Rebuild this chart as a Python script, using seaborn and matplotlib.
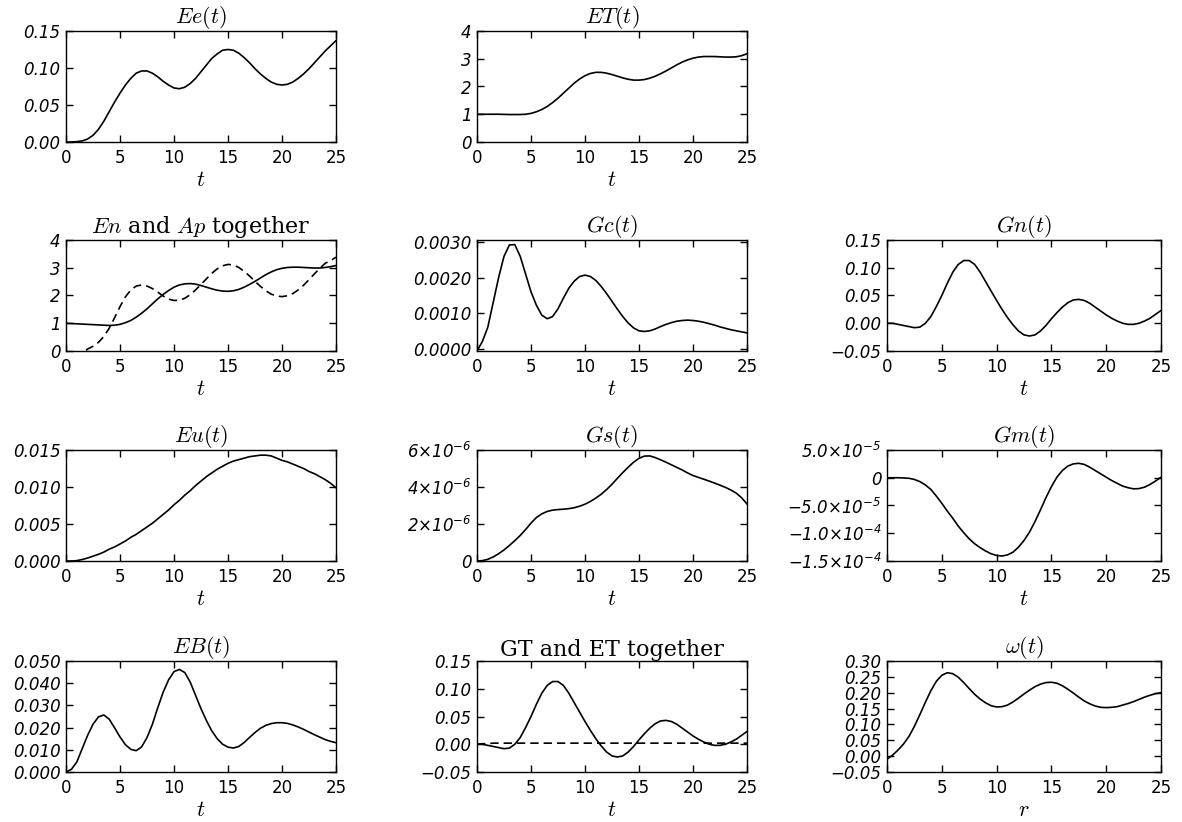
import numpy as np
import matplotlib
matplotlib.use("Agg")
import matplotlib.pyplot as plt
import seaborn as sns

# time grid (step 0.5)
t = np.arange(0, 25.5, 0.5)

Ee = [0.0, 0.0, 0.0005, 0.0015, 0.004, 0.009, 0.017, 0.028, 0.041, 0.054,
      0.066, 0.077, 0.086, 0.093, 0.096, 0.096, 0.093, 0.088, 0.082, 0.077,
      0.073, 0.072, 0.074, 0.079, 0.086, 0.095, 0.104, 0.113, 0.119, 0.124,
      0.125, 0.124, 0.120, 0.114, 0.107, 0.099, 0.092, 0.086, 0.081, 0.078,
      0.077, 0.078, 0.081, 0.086, 0.092, 0.099, 0.107, 0.115, 0.123, 0.130,
      0.137]

ET = [1.0, 1.0, 1.0, 1.0, 1.0, 0.995, 0.99, 0.99, 0.99, 1.0,
      1.03, 1.09, 1.17, 1.28, 1.42, 1.58, 1.76, 1.94, 2.12, 2.27,
      2.39, 2.47, 2.51, 2.51, 2.48, 2.43, 2.37, 2.31, 2.26, 2.23,
      2.23, 2.25, 2.30, 2.37, 2.46, 2.56, 2.67, 2.78, 2.88, 2.96,
      3.02, 3.06, 3.08, 3.08, 3.08, 3.07, 3.06, 3.06, 3.07, 3.11,
      3.18]

En = [1.0, 0.99, 0.98, 0.97, 0.96, 0.95, 0.94, 0.93, 0.92, 0.93,
      0.96, 1.02, 1.10, 1.22, 1.36, 1.52, 1.70, 1.88, 2.04, 2.18,
      2.30, 2.38, 2.42, 2.43, 2.41, 2.36, 2.30, 2.24, 2.19, 2.16,
      2.15, 2.17, 2.22, 2.30, 2.40, 2.51, 2.63, 2.75, 2.85, 2.93,
      2.98, 3.01, 3.02, 3.02, 3.01, 3.00, 2.99, 2.99, 3.01, 3.04,
      3.08]

Ap = [-0.6, -0.45, -0.3, -0.08, 0.07, 0.17, 0.31, 0.52, 0.82, 1.20,
      1.60, 1.95, 2.20, 2.34, 2.38, 2.34, 2.25, 2.12, 1.98, 1.87,
      1.82, 1.83, 1.90, 2.03, 2.20, 2.40, 2.60, 2.80, 2.96, 3.07,
      3.12, 3.10, 3.01, 2.87, 2.70, 2.51, 2.33, 2.17, 2.05, 1.98,
      1.96, 1.99, 2.07, 2.20, 2.37, 2.57, 2.78, 2.98, 3.16, 3.26,
      3.38]

Gc = [-0.00007, 0.0002, 0.0006, 0.0013, 0.0020, 0.0026, 0.00292, 0.00293, 0.0026, 0.0021,
      0.0016, 0.00122, 0.00094, 0.00084, 0.0009, 0.00112, 0.00142, 0.0017, 0.0019, 0.00203,
      0.00207, 0.00203, 0.00192, 0.00175, 0.00155, 0.00133, 0.00111, 0.0009, 0.00072, 0.00058,
      0.0005, 0.00048, 0.0005, 0.00055, 0.00062, 0.00068, 0.00073, 0.00077, 0.00079, 0.0008,
      0.00079, 0.00077, 0.00074, 0.0007, 0.00066, 0.00061, 0.00057, 0.00053, 0.0005, 0.00047,
      0.00044]

Gn = [0.0, 0.0, -0.002, -0.004, -0.006, -0.008, -0.007, 0.0, 0.012, 0.030,
      0.050, 0.072, 0.092, 0.106, 0.113, 0.113, 0.106, 0.092, 0.075, 0.058,
      0.041, 0.025, 0.010, -0.003, -0.014, -0.021, -0.023, -0.021, -0.014, -0.004,
      0.008, 0.019, 0.029, 0.037, 0.042, 0.043, 0.041, 0.036, 0.029, 0.022,
      0.015, 0.009, 0.004, 0.000, -0.002, -0.002, 0.000, 0.004, 0.009, 0.016,
      0.023]

Eu = [0.0, 0.0, 0.00005, 0.0002, 0.0004, 0.00065, 0.0009, 0.0012, 0.0016, 0.0019,
      0.0023, 0.0027, 0.0032, 0.0036, 0.0041, 0.0046, 0.0051, 0.0057, 0.0063, 0.0069,
      0.0076, 0.0082, 0.0089, 0.0095, 0.0102, 0.0108, 0.0114, 0.0119, 0.0124, 0.0128,
      0.0132, 0.0135, 0.0137, 0.0139, 0.0141, 0.0142, 0.0143, 0.0143, 0.0142, 0.0139,
      0.0136, 0.0134, 0.0131, 0.0128, 0.0125, 0.0121, 0.0118, 0.0114, 0.0110, 0.0105,
      0.0099]

# Gs in units of 1e-6
Gs = [0.0, 0.02, 0.09, 0.22, 0.39, 0.60, 0.84, 1.10, 1.38, 1.70,
      2.05, 2.35, 2.55, 2.68, 2.75, 2.78, 2.80, 2.83, 2.88, 2.96,
      3.07, 3.22, 3.40, 3.61, 3.86, 4.15, 4.47, 4.78, 5.07, 5.34,
      5.55, 5.67, 5.68, 5.59, 5.47, 5.34, 5.20, 5.06, 4.92, 4.76,
      4.62, 4.52, 4.42, 4.32, 4.21, 4.10, 3.98, 3.84, 3.67, 3.42,
      3.08]

# Gm in units of 1e-5
Gm = [0.0, 0.0, 0.0, -0.03, -0.1, -0.3, -0.7, -1.3, -2.1, -3.3,
      -4.6, -6.0, -7.3, -8.7, -9.9, -11.0, -11.9, -12.6, -13.2, -13.7,
      -14.0, -14.1, -13.9, -13.4, -12.5, -11.3, -9.8, -7.9, -5.8, -3.6,
      -1.6, 0.1, 1.3, 2.1, 2.5, 2.6, 2.4, 1.9, 1.3, 0.7,
      0.1, -0.5, -1.0, -1.5, -1.8, -2.0, -1.95, -1.7, -1.2, -0.6,
      0.1]

EB = [0.0, 0.0012, 0.0045, 0.0105, 0.0165, 0.0215, 0.0248, 0.0257, 0.0238, 0.0199,
      0.0158, 0.0123, 0.0102, 0.0096, 0.0113, 0.0155, 0.0215, 0.029, 0.036, 0.0415,
      0.0452, 0.0462, 0.0448, 0.0405, 0.0345, 0.0285, 0.0232, 0.0185, 0.015, 0.0125,
      0.0112, 0.0108, 0.0115, 0.0133, 0.0156, 0.0178, 0.0197, 0.021, 0.0218, 0.0222,
      0.0222, 0.0219, 0.0212, 0.0203, 0.0192, 0.018, 0.0168, 0.0157, 0.0146, 0.0138,
      0.0132]

GT = Gn
ET_small = [0.0, 0.001, 0.001, 0.002, 0.002, 0.002, 0.002, 0.002, 0.002, 0.002,
            0.002, 0.002, 0.002, 0.002, 0.002, 0.002, 0.002, 0.002, 0.002, 0.002,
            0.002, 0.002, 0.002, 0.002, 0.002, 0.002, 0.002, 0.002, 0.002, 0.002,
            0.002, 0.002, 0.002, 0.002, 0.002, 0.002, 0.002, 0.002, 0.002, 0.002,
            0.002, 0.002, 0.002, 0.002, 0.002, 0.002, 0.002, 0.002, 0.002, 0.002,
            0.002]

omega = [-0.01, 0.003, 0.019, 0.038, 0.062, 0.094, 0.131, 0.170, 0.206, 0.236,
         0.255, 0.263, 0.260, 0.249, 0.232, 0.213, 0.195, 0.180, 0.168, 0.159,
         0.155, 0.156, 0.161, 0.171, 0.183, 0.196, 0.208, 0.219, 0.227, 0.232,
         0.233, 0.230, 0.222, 0.211, 0.199, 0.186, 0.174, 0.165, 0.158, 0.154,
         0.153, 0.154, 0.156, 0.161, 0.166, 0.172, 0.179, 0.186, 0.192, 0.197,
         0.200]

xticks = [0, 5, 10, 15, 20, 25]
xticklabels = ["0", "5", "10", "15", "20", "25"]

M = "\u2212"

sns.set_style("ticks")
plt.rcParams.update({
    "font.family": ["DejaVu Sans"],
    "mathtext.fontset": "custom",
    "mathtext.rm": "DejaVu Sans:italic",
    "mathtext.it": "DejaVu Sans:italic",
    "text.color": "black",
    "axes.labelcolor": "black",
    "axes.titlecolor": "black",
    "axes.linewidth": 1.0,
    "axes.edgecolor": "black",
    "xtick.direction": "in",
    "ytick.direction": "in",
    "xtick.top": True,
    "ytick.right": True,
    "xtick.major.size": 5,
    "ytick.major.size": 5,
    "xtick.major.width": 1.0,
    "ytick.major.width": 1.0,
    "xtick.color": "black",
    "ytick.color": "black",
    "xtick.labelcolor": "black",
    "ytick.labelcolor": "black",
})

W, H = 1182, 822
col_left = [66, 477, 887]
col_w = [270, 270, 274]
row_top = [31, 240, 450, 661]
ph = 111

fig = plt.figure(figsize=(11.82, 8.22), dpi=100)


def panel(row, col, lines, title, yticks, ylabels, ylim, xlab="$t$"):
    ax = fig.add_axes([col_left[col] / W, 1 - (row_top[row] + ph) / H,
                       col_w[col] / W, ph / H])
    for y, ls in lines:
        sns.lineplot(x=t, y=y, ax=ax, color="black", linewidth=1.2,
                     linestyle=ls, estimator=None)
    ax.set_xlim(0, 25)
    ax.set_ylim(*ylim)
    ax.set_xticks(xticks, labels=xticklabels)
    ax.set_yticks(yticks, labels=ylabels)
    ax.tick_params(axis="x", labelsize=12, pad=5)
    ax.tick_params(axis="y", labelsize=12, pad=4)
    for lab in ax.get_yticklabels():
        lab.set_fontstyle("italic")
    ax.set_title(title, fontsize=16, pad=2, family="DejaVu Serif",
                 color="black", math_fontfamily="cm")
    ax.set_xlabel(xlab, fontsize=16, labelpad=2, color="black",
                  math_fontfamily="cm")
    ax.set_ylabel("")
    return ax


dash = (0, (5, 3))

panel(0, 0, [(Ee, "-")], "$Ee(t)$", [0, 0.05, 0.10, 0.15],
      ["0.00", "0.05", "0.10", "0.15"], (0, 0.15))
panel(0, 1, [(ET, "-")], "$ET(t)$", [0, 1, 2, 3, 4],
      ["0", "1", "2", "3", "4"], (0, 4))

panel(1, 0, [(En, "-"), (Ap, dash)], "$En$ and $Ap$ together", [0, 1, 2, 3, 4],
      ["0", "1", "2", "3", "4"], (0, 4))
panel(1, 1, [(Gc, "-")], "$Gc(t)$", [0, 0.001, 0.002, 0.003],
      ["0.0000", "0.0010", "0.0020", "0.0030"], (-0.00007, 0.00306))
panel(1, 2, [(Gn, "-")], "$Gn(t)$", [-0.05, 0, 0.05, 0.10, 0.15],
      [M + "0.05", "0.00", "0.05", "0.10", "0.15"], (-0.05, 0.15))

panel(2, 0, [(Eu, "-")], "$Eu(t)$", [0, 0.005, 0.010, 0.015],
      ["0.000", "0.005", "0.010", "0.015"], (0, 0.015))
panel(2, 1, [(np.array(Gs) * 1e-6, "-")], "$Gs(t)$", [0, 2e-6, 4e-6, 6e-6],
      ["0", r"$2{\times}10^{-6}$", r"$4{\times}10^{-6}$", r"$6{\times}10^{-6}$"],
      (0, 6e-6))
panel(2, 2, [(np.array(Gm) * 1e-5, "-")], "$Gm(t)$",
      [-1.5e-4, -1.0e-4, -5e-5, 0, 5e-5],
      [r"$-1.5{\times}10^{-4}$", r"$-1.0{\times}10^{-4}$",
       r"$-5.0{\times}10^{-5}$", "0", r"$5.0{\times}10^{-5}$"],
      (-1.5e-4, 5e-5))

panel(3, 0, [(EB, "-")], "$EB(t)$", [0, 0.01, 0.02, 0.03, 0.04, 0.05],
      ["0.000", "0.010", "0.020", "0.030", "0.040", "0.050"], (0, 0.05))
panel(3, 1, [(GT, "-"), (ET_small, dash)], "GT and ET together",
      [-0.05, 0, 0.05, 0.10, 0.15],
      [M + "0.05", "0.00", "0.05", "0.10", "0.15"], (-0.05, 0.15))
panel(3, 2, [(omega, "-")], r"$\omega(t)$",
      [-0.05, 0, 0.05, 0.10, 0.15, 0.20, 0.25, 0.30],
      [M + "0.05", "0.00", "0.05", "0.10", "0.15", "0.20", "0.25", "0.30"],
      (-0.05, 0.30), xlab="$r$")

fig.savefig("out.png", dpi=100, facecolor="white")
